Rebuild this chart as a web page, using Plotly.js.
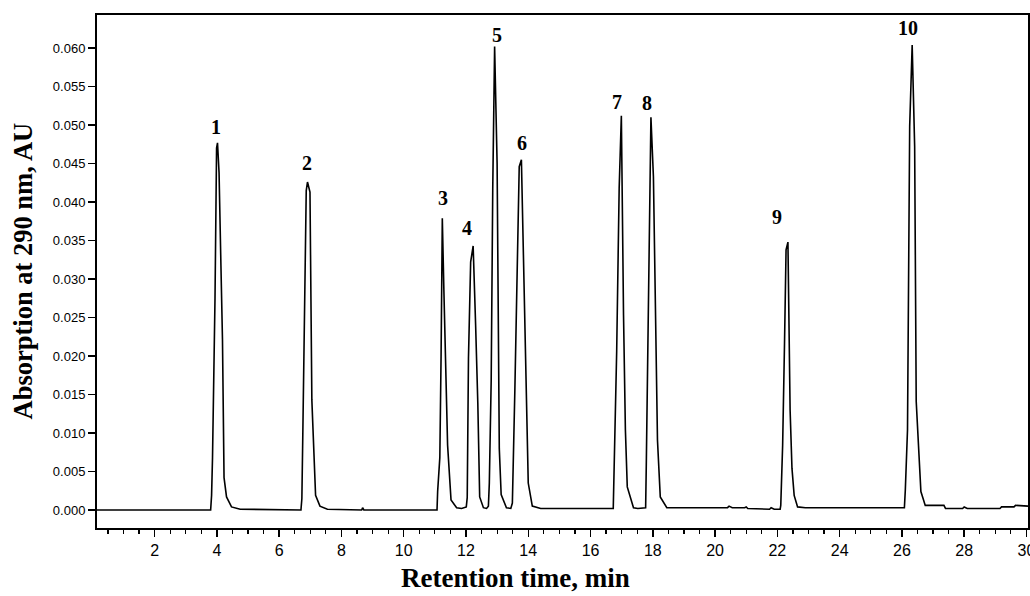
<!DOCTYPE html>
<html>
<head>
<meta charset="utf-8">
<script src="https://cdn.plot.ly/plotly-3.0.1.min.js"></script>
<style>html,body{margin:0;padding:0;background:#fff;}#chart{width:1030px;height:596px;}</style>
</head>
<body>
<div id="chart"></div>
<script>
// Retention time (min)
const retentionTime = [
  0.15, 3.80,
  3.83, 3.86, 3.94, 3.99, 4.02, 4.07, 4.13, 4.18, 4.23, 4.31, 4.47, 4.75,
  6.70,
  6.73, 6.76, 6.82, 6.87, 6.91, 6.99, 7.05, 7.12, 7.17, 7.31, 7.55,
  8.65, 8.68, 8.72,
  11.07,
  11.09, 11.16, 11.20, 11.24, 11.29, 11.35, 11.41, 11.52, 11.70, 11.86,
  12.01, 12.04, 12.08, 12.15, 12.23, 12.31, 12.38, 12.44, 12.56, 12.66,
  12.72, 12.75, 12.81, 12.86, 12.92, 13.00, 13.03, 13.07, 13.13, 13.30, 13.44,
  13.49, 13.57, 13.64, 13.71, 13.78, 13.87, 13.93, 14.00, 14.13, 14.40,
  16.73,
  16.76, 16.84, 16.92, 16.99, 17.06, 17.12, 17.18, 17.38, 17.52,
  17.77, 17.79, 17.87, 17.94, 18.02, 18.09, 18.15, 18.24, 18.45,
  20.40, 20.45, 20.55, 20.95, 21.00, 21.05, 21.75, 21.80, 21.90,
  22.09, 22.11, 22.17, 22.23, 22.28, 22.34, 22.41, 22.47, 22.54, 22.65, 22.90,
  26.08,
  26.11, 26.18, 26.25, 26.33, 26.41, 26.46, 26.54, 26.61, 26.75,
  27.35, 27.40, 27.95, 28.00, 28.10, 29.15, 29.20, 29.60, 29.65, 30.05
];
// Absorption at 290 nm (AU)
const absorbance = [
  0.0000, 0.0000,
  0.0019, 0.0068, 0.0275, 0.0470, 0.0477, 0.0438, 0.0318, 0.0221, 0.0042, 0.0017, 0.0004, 0.0001,
  0.0000,
  0.0015, 0.0099, 0.0273, 0.0415, 0.0426, 0.0413, 0.0143, 0.0076, 0.0019, 0.0005, 0.0001,
  0.0000, 0.0003, 0.0000,
  0.0000,
  0.0024, 0.0068, 0.0199, 0.0379, 0.0286, 0.0191, 0.0084, 0.0013, 0.0003, 0.0002,
  0.0004, 0.0016, 0.0197, 0.0322, 0.0343, 0.0240, 0.0139, 0.0017, 0.0003, 0.0002,
  0.0005, 0.0035, 0.0169, 0.0418, 0.0602, 0.0450, 0.0300, 0.0080, 0.0020, 0.0003, 0.0002,
  0.0009, 0.0156, 0.0286, 0.0446, 0.0455, 0.0281, 0.0145, 0.0035, 0.0005, 0.0002,
  0.0002,
  0.0048, 0.0206, 0.0418, 0.0512, 0.0253, 0.0104, 0.0030, 0.0003, 0.0002,
  0.0003, 0.0056, 0.0273, 0.0510, 0.0433, 0.0238, 0.0091, 0.0017, 0.0003,
  0.0003, 0.0005, 0.0003, 0.0003, 0.0004, 0.0002, 0.0001, 0.0003, 0.0001,
  0.0001, 0.0006, 0.0084, 0.0216, 0.0338, 0.0348, 0.0130, 0.0054, 0.0019, 0.0004, 0.0003,
  0.0003,
  0.0026, 0.0104, 0.0498, 0.0604, 0.0472, 0.0141, 0.0074, 0.0024, 0.0006,
  0.0006, 0.0002, 0.0002, 0.0004, 0.0002, 0.0002, 0.0004, 0.0004, 0.0006, 0.0005
];
// Peak labels and their positions
const peakLabels = ["1","2","3","4","5","6","7","8","9","10"];
const peakLabelX = [3.97, 6.88, 11.25, 12.02, 13.01, 13.81, 16.84, 17.81, 21.99, 26.21];
const peakLabelY = [0.0498, 0.0451, 0.0405, 0.0366, 0.0617, 0.0477, 0.0530, 0.0529, 0.0380, 0.0626];

const xTickVals = [2,4,6,8,10,12,14,16,18,20,22,24,26,28,30];
const yTickVals = [0,0.005,0.01,0.015,0.02,0.025,0.03,0.035,0.04,0.045,0.05,0.055,0.06];
const xTitle = 'Retention time, min';
const yTitle = 'Absorption at 290 nm, AU';

const serif = 'Liberation Serif, Times New Roman, serif';

const trace = {
  x: retentionTime, y: absorbance, type: 'scatter', mode: 'lines',
  line: {color: '#000', width: 1.6}, hoverinfo: 'skip', cliponaxis: false
};

const annotations = peakLabels.map((t, i) => ({
  x: peakLabelX[i], y: peakLabelY[i], xref: 'x', yref: 'y', text: '<b>' + t + '</b>',
  showarrow: false, xanchor: 'center', yanchor: 'middle',
  font: {family: serif, size: 20, color: '#000'}
}));
annotations.push({
  text: '<b>' + xTitle + '</b>', xref: 'paper', yref: 'paper', x: 0.449, y: 0,
  yshift: -50, xanchor: 'center', yanchor: 'middle', showarrow: false,
  font: {family: serif, size: 27, color: '#000'}
});
annotations.push({
  text: '<b>' + yTitle + '</b>', xref: 'paper', yref: 'paper', x: 0, y: 0.5,
  xshift: -75, xanchor: 'center', yanchor: 'middle', textangle: -90, showarrow: false,
  font: {family: serif, size: 26.5, color: '#000'}
});

const layout = {
  width: 1030, height: 596,
  margin: {l: 97, r: 2, t: 15, b: 68},
  paper_bgcolor: '#fff', plot_bgcolor: '#fff',
  showlegend: false,
  xaxis: {
    range: [0.15, 30.05], tickvals: xTickVals, ticktext: xTickVals.map(String),
    ticks: 'outside', ticklen: 7, tickwidth: 1.5, tickcolor: '#000',
    ticklabeloverflow: 'allow',
    minor: {dtick: 0.5, tick0: 0, ticks: 'outside', ticklen: 3.5, tickwidth: 1.2, tickcolor: '#000', showgrid: false},
    showline: true, linecolor: '#000', linewidth: 2, mirror: true,
    showgrid: false, zeroline: false,
    tickfont: {family: 'Liberation Sans, Arial, sans-serif', size: 16, color: '#000'}
  },
  yaxis: {
    range: [-0.00234, 0.0643], tickvals: yTickVals, ticktext: yTickVals.map(v => v.toFixed(3)),
    ticks: 'outside', ticklen: 7, tickwidth: 1.5, tickcolor: '#000',
    showline: true, linecolor: '#000', linewidth: 2, mirror: true,
    showgrid: false, zeroline: false,
    tickfont: {family: 'Liberation Sans, Arial, sans-serif', size: 13, color: '#000'}
  },
  annotations: annotations
};

Plotly.newPlot('chart', [trace], layout, {displayModeBar: false, staticPlot: true});
</script>
</body>
</html>
